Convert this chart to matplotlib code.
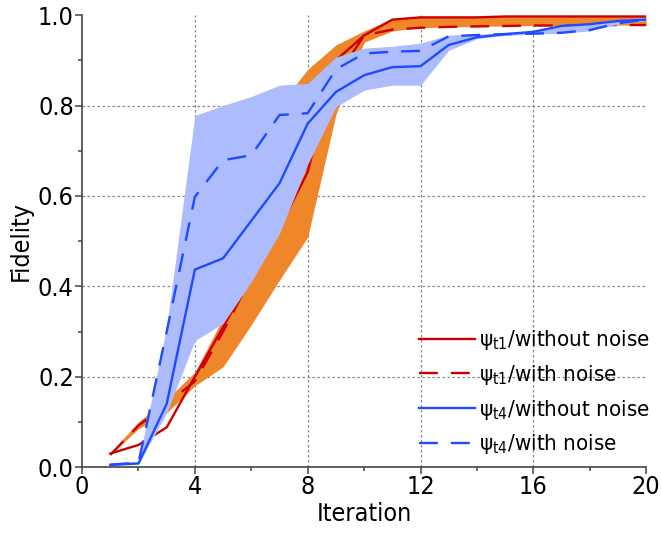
import matplotlib
matplotlib.use("Agg")
import matplotlib.pyplot as plt
from matplotlib.ticker import MultipleLocator

plt.rcParams["font.family"] = "DejaVu Sans"
plt.rcParams["font.stretch"] = "condensed"
plt.rcParams["mathtext.fontset"] = "dejavusans"

iters = list(range(1, 21))

# psi_t1
t1_clean = [0.030, 0.049, 0.088, 0.20, 0.31, 0.42, 0.53, 0.653, 0.90, 0.955,
            0.990, 0.995, 0.995, 0.995, 0.997, 0.997, 0.997, 0.997, 0.997, 0.997]
t1_noise = [0.027, 0.092, 0.14, 0.19, 0.30, 0.42, 0.54, 0.67, 0.86, 0.955,
            0.968, 0.972, 0.974, 0.975, 0.976, 0.977, 0.977, 0.977, 0.978, 0.978]
t1_low = [0.027, 0.085, 0.12, 0.18, 0.222, 0.315, 0.414, 0.509, 0.78, 0.94,
          0.965, 0.972, 0.974, 0.975, 0.976, 0.977, 0.977, 0.977, 0.978, 0.978]
t1_high = [0.032, 0.10, 0.15, 0.21, 0.33, 0.55, 0.80, 0.88, 0.934, 0.965,
           0.992, 0.996, 0.996, 0.996, 0.997, 0.997, 0.997, 0.997, 0.997, 0.997]

# psi_t4
t4_clean = [0.005, 0.008, 0.14, 0.437, 0.462, 0.545, 0.628, 0.76, 0.83, 0.867,
            0.885, 0.887, 0.934, 0.951, 0.958, 0.963, 0.976, 0.980, 0.987, 0.990]
t4_noise = [0.005, 0.010, 0.30, 0.598, 0.679, 0.69, 0.779, 0.783, 0.88, 0.915,
            0.919, 0.921, 0.953, 0.956, 0.958, 0.959, 0.961, 0.967, 0.982, 0.990]
t4_low = [0.004, 0.007, 0.12, 0.28, 0.318, 0.41, 0.517, 0.67, 0.797, 0.834,
          0.845, 0.845, 0.922, 0.948, 0.955, 0.958, 0.960, 0.965, 0.980, 0.988]
t4_high = [0.010, 0.012, 0.31, 0.778, 0.80, 0.82, 0.845, 0.849, 0.907, 0.927,
           0.931, 0.938, 0.956, 0.958, 0.960, 0.965, 0.978, 0.982, 0.990, 0.995]

labels = ["ψ$_{\\rm t1}$/without noise", "ψ$_{\\rm t1}$/with noise",
          "ψ$_{\\rm t4}$/without noise", "ψ$_{\\rm t4}$/with noise"]

red = "#cc0000"
blue = "#1f4bff"

fig = plt.figure(figsize=(6.62, 5.4), dpi=100)
ax = fig.add_axes([0.124, 0.135, 0.852, 0.837])

ax.fill_between(iters, t1_low, t1_high, color="#f0862a", lw=0, zorder=1)
ax.plot(iters, t1_clean, color=red, lw=1.7, label=labels[0], zorder=2)
ax.plot(iters, t1_noise, color=red, lw=1.7, dashes=(8, 5.5), label=labels[1], zorder=2)
ax.fill_between(iters, t4_low, t4_high, color="#adbcfc", lw=0, zorder=3)
ax.plot(iters, t4_clean, color=blue, lw=1.7, label=labels[2], zorder=4)
ax.plot(iters, t4_noise, color=blue, lw=1.7, dashes=(8, 5.5), label=labels[3], zorder=4)

for gx in [4, 8, 12, 16]:
    ax.axvline(gx, color="#888888", lw=0.9, ls=(0, (2, 2)), zorder=0)
for gy in [0.2, 0.4, 0.6, 0.8]:
    ax.axhline(gy, color="#888888", lw=0.9, ls=(0, (2, 2)), zorder=0)

ax.set_xlim(0, 20)
ax.set_ylim(0, 1.0)
ax.xaxis.set_major_locator(MultipleLocator(4))
ax.xaxis.set_minor_locator(MultipleLocator(2))
ax.yaxis.set_major_locator(MultipleLocator(0.2))
ax.yaxis.set_minor_locator(MultipleLocator(0.1))
ax.yaxis.set_major_formatter(plt.FormatStrFormatter("%.1f"))

for side in ["top", "right"]:
    ax.spines[side].set_visible(False)
for side in ["left", "bottom"]:
    ax.spines[side].set_color("#444444")
    ax.spines[side].set_linewidth(1.2)

ax.tick_params(which="major", direction="out", length=5, width=1.1,
               color="#444444", labelsize=18, pad=1)
ax.tick_params(which="minor", direction="out", length=3, width=1.1, color="#444444")

ax.set_xlabel("Iteration", fontsize=18, labelpad=2)
ax.set_ylabel("Fidelity", fontsize=18, labelpad=4)

ax.legend(loc="lower right", bbox_to_anchor=(1.03, -0.006), frameon=False,
          fontsize=16, handlelength=2.55, handletextpad=0.15, labelspacing=0.48,
          borderaxespad=0.2)

fig.savefig("out.png", dpi=100)
